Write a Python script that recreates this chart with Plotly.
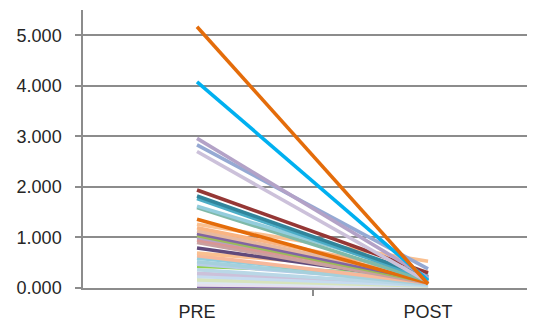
import plotly.graph_objects as go

categories = ["PRE", "POST"]
series_names = [f"Serie {i+1}" for i in range(33)]
pre_values = [5.17, 4.08, 2.96, 2.83, 2.70, 1.94, 1.82, 1.77, 1.62, 1.59,
              1.36, 1.26, 1.19, 1.13, 1.08, 1.04, 1.00, 0.95, 0.90, 0.79,
              0.69, 0.64, 0.59, 0.52, 0.47, 0.43, 0.36, 0.29, 0.23, 0.16,
              0.12, 0.06, 0.01]
post_values = [0.08, 0.15, 0.20, 0.38, 0.12, 0.30, 0.22, 0.18, 0.25, 0.14,
               0.10, 0.53, 0.28, 0.20, 0.15, 0.12, 0.22, 0.18, 0.10, 0.16,
               0.32, 0.10, 0.14, 0.08, 0.12, 0.26, 0.06, 0.10, 0.05, 0.04,
               0.03, 0.02, 0.01]
y_tick_values = [0, 1, 2, 3, 4, 5]

line_colors = ["#E46C0A", "#00B0F0", "#B3A2C7", "#95A9D3", "#CCC1DA", "#953735",
               "#31859C", "#4BACC6", "#93CDDD", "#7FB9A8", "#E46C0A", "#FAC090",
               "#F9B483", "#E6B9A0", "#8064A2", "#9BBB59", "#B3A2C7", "#D99694",
               "#C9A0A0", "#604A7B", "#FAC090", "#F7B89A", "#93CDDD", "#A5D0DC",
               "#B7CDE8", "#92D050", "#B9D7E6", "#CCC1DA", "#C6DBEF", "#D7E4BD",
               "#DCE6F2", "#E6E0EC", "#8064A2"]

x_pos = [0, 1]
fig = go.Figure()
order = list(range(len(pre_values)))[::-1]
for i in order:
    fig.add_trace(go.Scatter(
        x=x_pos, y=[pre_values[i], post_values[i]], mode="lines",
        name=series_names[i], line=dict(color=line_colors[i], width=3.6),
        showlegend=False, hoverinfo="skip"))

font_color = "#262626"
axis_gray = "#8C8C8C"
# page body has an 8px default margin, so the figure is sized/offset to compensate
fig.update_layout(
    width=527, height=316,
    margin=dict(l=75, r=3, t=2, b=32),
    paper_bgcolor="white", plot_bgcolor="white",
    font=dict(family="Liberation Sans, Arial, sans-serif", size=18, color=font_color),
    xaxis=dict(
        range=[-0.4935, 1.45], tickmode="array", tickvals=x_pos, ticktext=categories,
        ticks="", showgrid=False, zeroline=False, showline=True,
        linecolor=axis_gray, linewidth=1.5, ticklabelstandoff=7,
        minor=dict(tickmode="array", tickvals=[0.5], ticks="outside", ticklen=6,
                   tickcolor=axis_gray, tickwidth=1.5, showgrid=False),
    ),
    yaxis=dict(
        range=[0, 5.5], tickmode="array", tickvals=y_tick_values, tickformat=".3f",
        ticks="outside", ticklen=6, tickcolor=axis_gray, tickwidth=1.5,
        showgrid=True, gridcolor=axis_gray, gridwidth=1.5, zeroline=False,
        showline=True, linecolor=axis_gray, linewidth=1.5, ticklabelstandoff=10,
    ),
)
fig.write_html("out.html")
